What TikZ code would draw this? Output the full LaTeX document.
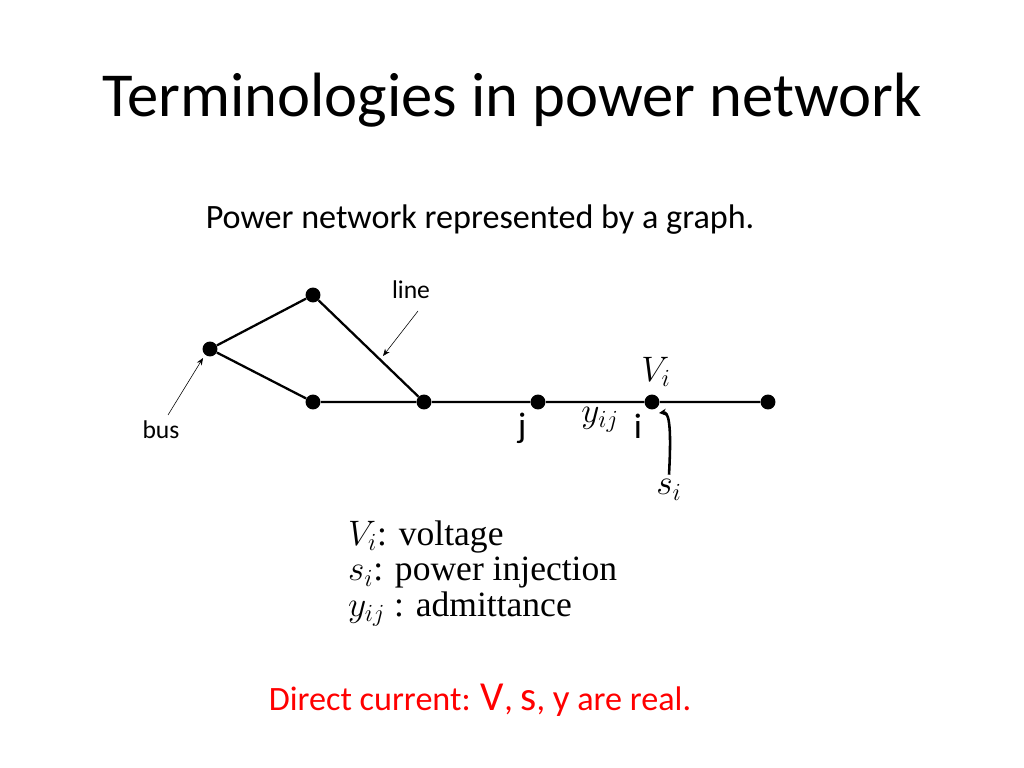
\documentclass[tikz,border=0pt]{standalone}
\usepackage{fontspec}
\setmainfont{Carlito}
\newfontfamily\legendfont{Liberation Serif}
\usetikzlibrary{arrows.meta}
\begin{document}
\begin{tikzpicture}[x=0.703125pt,y=-0.703125pt,
    bus/.style={circle,fill=black,inner sep=0pt,minimum size=10.5pt},
    wire/.style={line width=1.6pt},
    pointer/.style={-{Stealth[length=5pt,width=4pt]},thin}]
  \useasboundingbox (0,0) rectangle (1024,768);

  \node (title) at (512,100) {\fontsize{44}{50}\selectfont Terminologies in power network};
  \node (sub) at (480,220) {\fontsize{24}{28}\selectfont Power network represented by a graph.};

  % buses
  \node[bus] (a) at (210,349) {};
  \node[bus] (b) at (313,295) {};
  \node[bus] (c) at (313,402) {};
  \node[bus] (d) at (424,402) {};
  \node[bus] (j) at (538,402) {};
  \node[bus] (i) at (652,402) {};
  \node[bus] (g) at (768,402) {};

  % lines
  \draw[wire] (a) -- (b) -- (d);
  \draw[wire] (a) -- (c) -- (d) -- (j) -- (i) -- (g);

  % annotations
  \node (linelbl) at (411,290) {\fontsize{18}{20}\selectfont line};
  \coordinate (lineend) at (383,356);
  \draw[pointer] (418,311) -- (lineend);
  \node (buslbl) at (161,430) {\fontsize{18}{20}\selectfont bus};
  \coordinate (busend) at (203,358);
  \draw[pointer] (168,415) -- (busend);

  \node (jlbl) at (522,428) {\fontsize{25}{28}\selectfont j};
  \node (ilbl) at (638,426) {\fontsize{25}{28}\selectfont i};
  \node (ylbl) at (600,420) {\fontsize{24}{28}\selectfont $y_{ij}$};
  \node (vlbl) at (656,372) {\fontsize{24}{28}\selectfont $V_i$};
  \node (slbl) at (669,490) {\fontsize{24}{28}\selectfont $s_i$};
  \draw[line width=1.8pt,-{Stealth[length=5pt,width=5pt]}] (slbl.north) .. controls (672,420) and (668,412) .. (659,413);

  % legend
  \node[anchor=west] (leg1) at (343,537) {\fontsize{25}{28}\selectfont\legendfont $V_i$: voltage};
  \node[anchor=west] (leg2) at (343,573) {\fontsize{25}{28}\selectfont\legendfont $s_i$: power injection};
  \node[anchor=west] (leg3) at (343,609) {\fontsize{25}{28}\selectfont\legendfont $y_{ij}$ : admittance};

  \node[text=red] (dc) at (480,700) {\fontsize{24}{28}\selectfont Direct current: {\fontsize{29}{32}\selectfont V}, {\fontsize{29}{32}\selectfont s}, {\fontsize{26}{30}\selectfont y} are real.};
\end{tikzpicture}
\end{document}
